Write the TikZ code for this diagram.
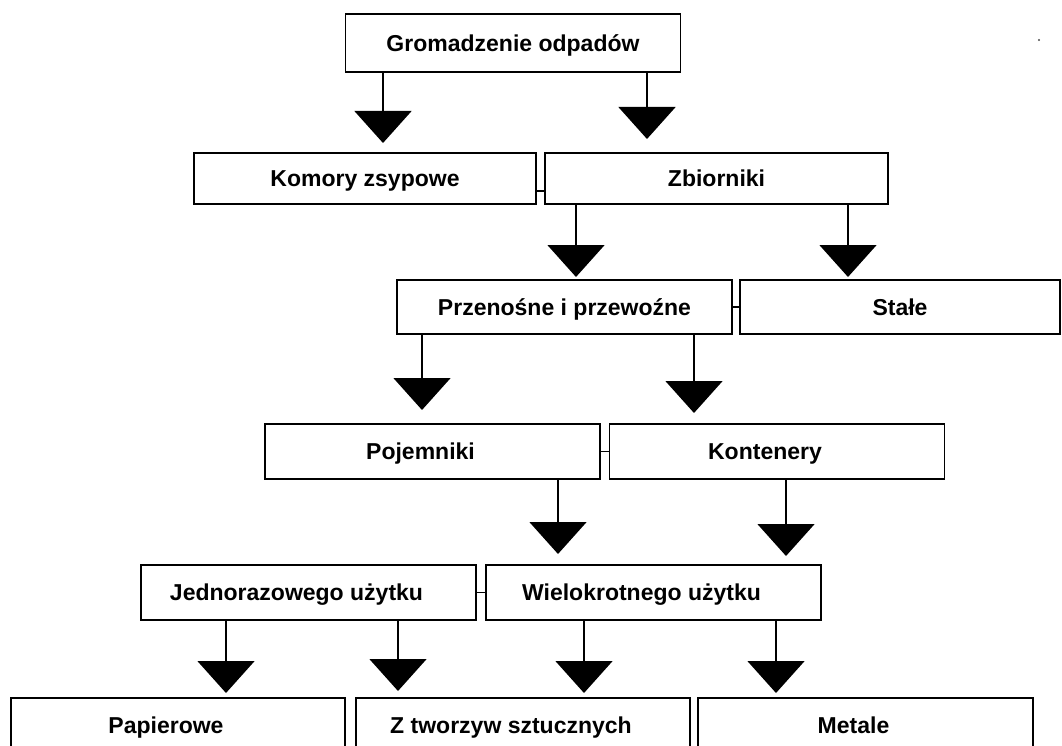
\documentclass[tikz,border=0pt]{standalone}
\usepackage{fontspec}
\setmainfont{Liberation Sans}
\usetikzlibrary{positioning, arrows.meta}
\tikzset{x=1pt, y=1pt, % one unit is one pixel of the picture
box/.style={ % Sets the properties for each box
draw, line width=1.8pt, outer sep=0pt,
minimum width=335pt, minimum height=55pt, inner sep=0pt,
text height=16.5pt, text depth=0pt, % caps sit in the middle
font=\fontsize{23}{27}\selectfont\bfseries},
lshift/.style={ % Text a bit left of the middle
execute at begin node={\hspace*{-24pt}}},
>={Triangle[width=57pt,length=32pt]}, % Big filled triangle heads
arr/.style={ % Sets the properties for each arrow
draw,->,line width=1.6pt}}

\begin{document}
\begin{tikzpicture}
    \useasboundingbox (0,0) rectangle (1062,-746);

    \node[box, minimum height=58pt] (grom) at (513,-43) {Gromadzenie odpadów};
    \node[box, below=81pt of grom, xshift=-148pt, minimum width=342pt, minimum height=51pt] (komory) {Komory zsypowe};
    \node[box, right=9pt of komory, minimum width=343pt, minimum height=51pt] (zb) {Zbiorniki};
    \node[box, below=76pt of zb, xshift=-152pt, minimum height=54pt] (przen) {Przenośne i przewoźne};
    \node[box, right=8pt of przen, minimum width=320pt, minimum height=54pt] (stale) {Stałe};
    \node[box, lshift, below=90pt of przen, xshift=-132pt] (poj) {Pojemniki};
    \node[box, lshift, right=9.5pt of poj] (kont) {Kontenery};
    \node[box, lshift, below=86pt of poj, xshift=-124pt] (jedn) {Jednorazowego użytku};
    \node[box, lshift, right=10pt of jedn] (wiel) {Wielokrotnego użytku};
    \node[box, lshift, below=78pt of jedn, xshift=-130.5pt, minimum width=334pt] (pap) {Papierowe};
    \node[box, lshift, right=11pt of pap, minimum width=334pt] (tworz) {Z tworzyw sztucznych};
    \node[box, lshift, right=8pt of tworz] (met) {Metale};

    \draw[line width=1.6pt] ([yshift=13pt]komory.south east) -- ([yshift=13pt]zb.south west);
    \draw[line width=1.6pt] (przen.east) -- (stale.west);
    \draw[line width=1.6pt] (poj.east) -- (kont.west);
    \draw[line width=1.6pt] (jedn.east) -- (wiel.west);

    \draw[arr, shorten >=10pt] ([xshift=-130pt]grom.south) -- ([xshift=-130pt]grom.south |- komory.north);
    \draw[arr, shorten >=14pt] ([xshift=134pt]grom.south) -- ([xshift=134pt]grom.south |- zb.north);
    \draw[arr, shorten >=3pt] ([xshift=-140.5pt]zb.south) -- ([xshift=-140.5pt]zb.south |- przen.north);
    \draw[arr, shorten >=3pt] ([xshift=131.5pt]zb.south) -- ([xshift=131.5pt]zb.south |- stale.north);
    \draw[arr, shorten >=14pt] ([xshift=-142.5pt]przen.south) -- ([xshift=-142.5pt]przen.south |- poj.north);
    \draw[arr, shorten >=11pt] ([xshift=129.5pt]przen.south) -- ([xshift=129.5pt]przen.south |- kont.north);
    \draw[arr, shorten >=11pt] ([xshift=125.5pt]poj.south) -- ([xshift=125.5pt]poj.south |- wiel.north);
    \draw[arr, shorten >=9pt] ([xshift=9pt]kont.south) -- ([xshift=9pt]kont.south |- wiel.north);
    \draw[arr, shorten >=5pt] ([xshift=-82.5pt]jedn.south) -- ([xshift=-82.5pt]jedn.south |- pap.north);
    \draw[arr, shorten >=7pt] ([xshift=89.5pt]jedn.south) -- ([xshift=89.5pt]jedn.south |- tworz.north);
    \draw[arr, shorten >=5pt] ([xshift=-69.5pt]wiel.south) -- ([xshift=-69.5pt]wiel.south |- tworz.north);
    \draw[arr, shorten >=5pt] ([xshift=122.5pt]wiel.south) -- ([xshift=122.5pt]wiel.south |- met.north);

    \fill[black!70] (1039,-40) circle (1.2pt);

\end{tikzpicture}
\end{document}
